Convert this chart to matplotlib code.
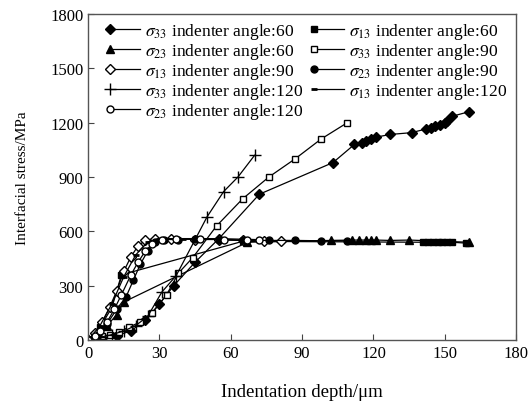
import numpy as np
import matplotlib
matplotlib.use("Agg")
import matplotlib.pyplot as plt
from matplotlib.legend_handler import HandlerLine2D

plt.rcParams['font.family'] = ['Liberation Serif', 'DejaVu Serif']
plt.rcParams['mathtext.fontset'] = 'stix'

# sigma33, indenter angle 60 (filled diamond)
x33_60 = [0, 6, 12, 18, 24, 30, 36, 45, 55, 72, 103, 112, 115, 117, 119, 121, 127, 136, 142, 144, 146, 148, 150, 151, 153, 160]
y33_60 = [0, 10, 25, 50, 110, 200, 300, 430, 560, 805, 980, 1080, 1090, 1100, 1110, 1120, 1135, 1145, 1165, 1170, 1180, 1190, 1200, 1210, 1235, 1260]
# sigma13, angle 60 (filled square)
x13_60 = [0, 5, 10, 14, 65, 141, 143, 145, 147, 149, 151, 153, 159]
y13_60 = [0, 70, 180, 360, 545, 540, 540, 540, 540, 540, 540, 540, 535]
# sigma23, angle 60 (filled triangle)
x23_60 = [0, 4, 8, 12, 15, 67, 102, 111, 114, 117, 119, 121, 127, 135, 160]
y23_60 = [0, 30, 80, 140, 210, 540, 550, 552, 552, 552, 552, 552, 550, 552, 540]
# sigma33, angle 90 (open square)
x33_90 = [0, 3, 6, 9, 13, 17, 22, 27, 33, 38, 44, 54, 65, 76, 87, 98, 109]
y33_90 = [0, 10, 20, 30, 45, 70, 100, 150, 250, 370, 455, 630, 780, 900, 1000, 1110, 1200]
# sigma13, angle 90 (open diamond)
x13_90 = [0, 3, 6, 9, 12, 15, 18, 21, 24, 28, 35, 45, 55, 65, 74, 81]
y13_90 = [0, 40, 100, 180, 270, 380, 460, 520, 550, 560, 560, 555, 555, 550, 548, 545]
# sigma23, angle 90 (filled circle)
x23_90 = [0, 4, 8, 12, 16, 19, 22, 25, 28, 32, 38, 45, 55, 65, 76, 87, 98, 109]
y23_90 = [0, 30, 90, 170, 240, 330, 420, 490, 540, 555, 555, 560, 555, 550, 550, 550, 548, 548]
# sigma33, angle 120 (plus)
x33_120 = [0, 5, 10, 15, 20, 25, 31, 37, 50, 57, 63, 70]
y33_120 = [0, 15, 30, 50, 80, 130, 265, 355, 680, 820, 900, 1020]
# sigma13, angle 120 (small dash)
x13_120 = [0, 5, 10, 15, 20, 25, 30, 40, 55, 70]
y13_120 = [0, 80, 200, 350, 470, 540, 560, 560, 560, 555]
# sigma23, angle 120 (open circle)
x23_120 = [0, 3, 5, 8, 11, 14, 18, 21, 24, 27, 31, 37, 47, 57, 67, 72]
y23_120 = [0, 20, 50, 100, 170, 250, 360, 430, 490, 530, 555, 560, 560, 555, 550, 550]


class MarkerLeft(HandlerLine2D):
    # legend handle with the marker at the left end of the line
    def create_artists(self, *args, **kwargs):
        arts = super().create_artists(*args, **kwargs)
        for a in arts:
            if a.get_marker() not in (None, 'None', ''):
                a.set_markevery([0])
        return arts


fig = plt.figure(figsize=(5.31, 4.06), dpi=100)
ax = fig.add_axes([0.166, 0.160, 0.806, 0.803])

kw = dict(color='black', lw=0.9, ms=5)
h1, = ax.plot(x33_60, y33_60, marker='D', mfc='black', ms=5, color='black', lw=0.9, label=r'$\sigma_{33}$ indenter angle:60')
h2, = ax.plot(x13_60, y13_60, marker='s', mfc='black', label=r'$\sigma_{13}$ indenter angle:60', **kw)
h3, = ax.plot(x23_60, y23_60, marker='^', mfc='black', ms=5.5, color='black', lw=0.9, label=r'$\sigma_{23}$ indenter angle:60')
h4, = ax.plot(x33_90, y33_90, marker='s', mfc='white', label=r'$\sigma_{33}$ indenter angle:90', **kw)
h5, = ax.plot(x13_90, y13_90, marker='D', mfc='white', ms=5, color='black', lw=0.9, label=r'$\sigma_{13}$ indenter angle:90')
h6, = ax.plot(x23_90, y23_90, marker='o', mfc='black', label=r'$\sigma_{23}$ indenter angle:90', **kw)
h7, = ax.plot(x33_120, y33_120, marker='+', ms=8, mew=1.0, color='black', lw=0.9, label=r'$\sigma_{33}$ indenter angle:120')
h8, = ax.plot(x13_120, y13_120, marker='_', ms=5, mew=2.0, color='black', lw=0.9, label=r'$\sigma_{13}$ indenter angle:120')
h9, = ax.plot(x23_120, y23_120, marker='o', mfc='white', label=r'$\sigma_{23}$ indenter angle:120', **kw)

ax.set_xlim(0, 180)
ax.set_ylim(0, 1800)
ax.set_xticks(np.arange(0, 181, 30))
ax.set_yticks(np.arange(0, 1801, 300))
ax.tick_params(direction='in', labelsize=12, length=4, color='#444444')
for s in ax.spines.values():
    s.set_color('#555555')
    s.set_linewidth(1.0)
ax.set_xlabel('Indentation depth/μm', fontsize=13.5, labelpad=16)
ax.set_ylabel('Interfacial stress/MPa', fontsize=11, labelpad=15)

handles = [h1, h3, h5, h7, h9, h2, h4, h6, h8]
ax.legend(handles=handles, loc='upper left', ncol=2, frameon=False, fontsize=12.6,
          handler_map={l: MarkerLeft(numpoints=1) for l in handles},
          handlelength=1.7, handletextpad=0.3, columnspacing=0.6,
          labelspacing=0.0, borderaxespad=0.0, bbox_to_anchor=(0.035, 1.0))

fig.savefig('out.png', dpi=100)
